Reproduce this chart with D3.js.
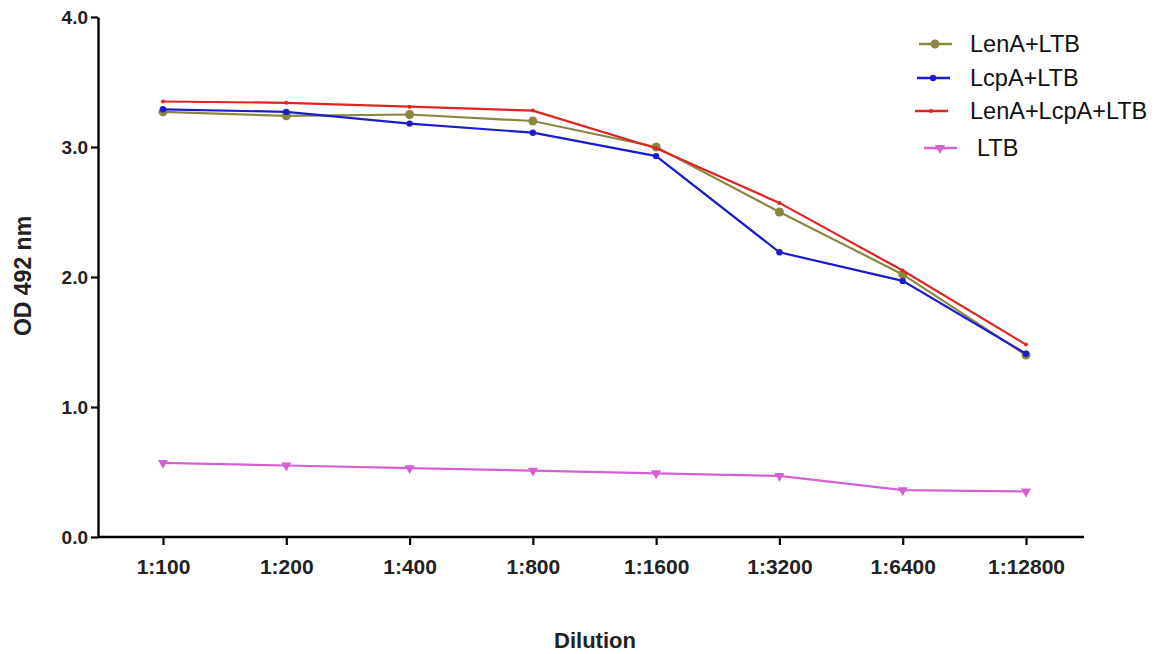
<!DOCTYPE html>
<html>
<head>
<meta charset="utf-8">
<script src="https://cdn.jsdelivr.net/npm/d3@7"></script>
<style>
  body { margin: 0; background: #fff; }
  svg text { font-family: "Liberation Sans", Arial, sans-serif; }
</style>
</head>
<body>
<svg width="1160" height="654"></svg>
<script>
// Dilutions on the x axis
var dilutions = ["1:100", "1:200", "1:400", "1:800", "1:1600", "1:3200", "1:6400", "1:12800"];

// OD 492 nm readings per group
var lenA_LTB      = [3.27, 3.24, 3.25, 3.20, 3.00, 2.50, 2.02, 1.40];
var lcpA_LTB      = [3.29, 3.27, 3.18, 3.11, 2.93, 2.19, 1.97, 1.41];
var lenA_lcpA_LTB = [3.35, 3.34, 3.31, 3.28, 2.99, 2.57, 2.05, 1.48];
var ltb           = [0.57, 0.55, 0.53, 0.51, 0.49, 0.47, 0.36, 0.35];

var yTicks = [0, 1, 2, 3, 4];

var series = [
  {name: "LenA+LTB", values: lenA_LTB, color: "#8a8840", marker: "circle", r: 4.5},
  {name: "LcpA+LTB", values: lcpA_LTB, color: "#1c1ccc", marker: "circle", r: 3.2},
  {name: "LenA+LcpA+LTB", values: lenA_lcpA_LTB, color: "#e02424", marker: "circle", r: 2},
  {name: "LTB", values: ltb, color: "#d660d2", marker: "triangle", r: 4}
];

var margin = {top: 17, right: 70, bottom: 117, left: 98},
    width = 1160 - margin.left - margin.right,
    height = 654 - margin.top - margin.bottom;

var root = d3.select("svg");
var svg = root.append("g")
    .attr("transform", "translate(" + margin.left + "," + margin.top + ")");

var x = d3.scalePoint()
    .domain(dilutions)
    .range([65, 928]);

var y = d3.scaleLinear()
    .domain([0, 4])
    .range([height, 0]);

// Axes
var yAxis = svg.append("g")
    .call(d3.axisLeft(y).tickValues(yTicks).tickFormat(d3.format(".1f")).tickSize(7).tickSizeOuter(0));
yAxis.select(".domain").attr("stroke-width", 2.4);
yAxis.selectAll(".tick line").attr("stroke-width", 2.2);
yAxis.selectAll(".tick text")
    .attr("font-size", 19).attr("font-weight", "bold").attr("fill", "#222").attr("x", -10);

var xAxis = svg.append("g")
    .attr("transform", "translate(0," + height + ")")
    .call(d3.axisBottom(x).tickSize(8).tickSizeOuter(0));
xAxis.select(".domain").attr("d", "M0,0H" + (width - 6)).attr("stroke-width", 2.4);
xAxis.selectAll(".tick line").attr("stroke-width", 2.2);
xAxis.selectAll(".tick text")
    .attr("font-size", 21).attr("font-weight", "bold").attr("fill", "#222")
    .attr("dy", null).attr("y", 37);

// Axis titles
svg.append("text")
    .attr("transform", "rotate(-90)")
    .attr("x", -height / 2 + 1)
    .attr("y", -67)
    .attr("text-anchor", "middle")
    .attr("font-size", 23).attr("font-weight", "bold").attr("fill", "#222")
    .text("OD 492 nm");

svg.append("text")
    .attr("x", 497)
    .attr("y", height + 111)
    .attr("text-anchor", "middle")
    .attr("font-size", 22).attr("font-weight", "bold").attr("fill", "#222")
    .text("Dilution");

// Lines and markers
var line = d3.line()
    .x(function(d, i) { return x(dilutions[i]); })
    .y(function(d) { return y(d); });

var tri = d3.symbol().type(d3.symbolTriangle).size(45);

function drawMarker(g, s, cx, cy) {
  if (s.marker === "triangle") {
    g.append("path")
        .attr("d", tri)
        .attr("transform", "translate(" + cx + "," + cy + ") rotate(180)")
        .attr("fill", s.color);
  } else {
    g.append("circle")
        .attr("cx", cx).attr("cy", cy).attr("r", s.r)
        .attr("fill", s.color);
  }
}

series.forEach(function(s) {
  var g = svg.append("g");
  g.append("path")
      .datum(s.values)
      .attr("fill", "none")
      .attr("stroke", s.color)
      .attr("stroke-width", 2.2)
      .attr("d", line);
  s.values.forEach(function(v, i) {
    drawMarker(g, s, x(dilutions[i]), y(v));
  });
});

// Legend (page coordinates)
var legendRows = [
  {lx: 919, ty: 44, tx: 970},
  {lx: 917, ty: 78, tx: 970},
  {lx: 915, ty: 111, tx: 970},
  {lx: 924, ty: 148, tx: 977}
];
var legend = root.append("g");
series.forEach(function(s, i) {
  var p = legendRows[i];
  var row = legend.append("g").attr("transform", "translate(0," + p.ty + ")");
  row.append("line")
      .attr("x1", p.lx).attr("x2", p.lx + 33).attr("y1", 0).attr("y2", 0)
      .attr("stroke", s.color).attr("stroke-width", 2.4);
  drawMarker(row, s, p.lx + 16, 0);
  row.append("text")
      .attr("x", p.tx)
      .attr("y", 8)
      .attr("font-size", 23.5).attr("fill", "#111")
      .text(s.name);
});
</script>
</body>
</html>
